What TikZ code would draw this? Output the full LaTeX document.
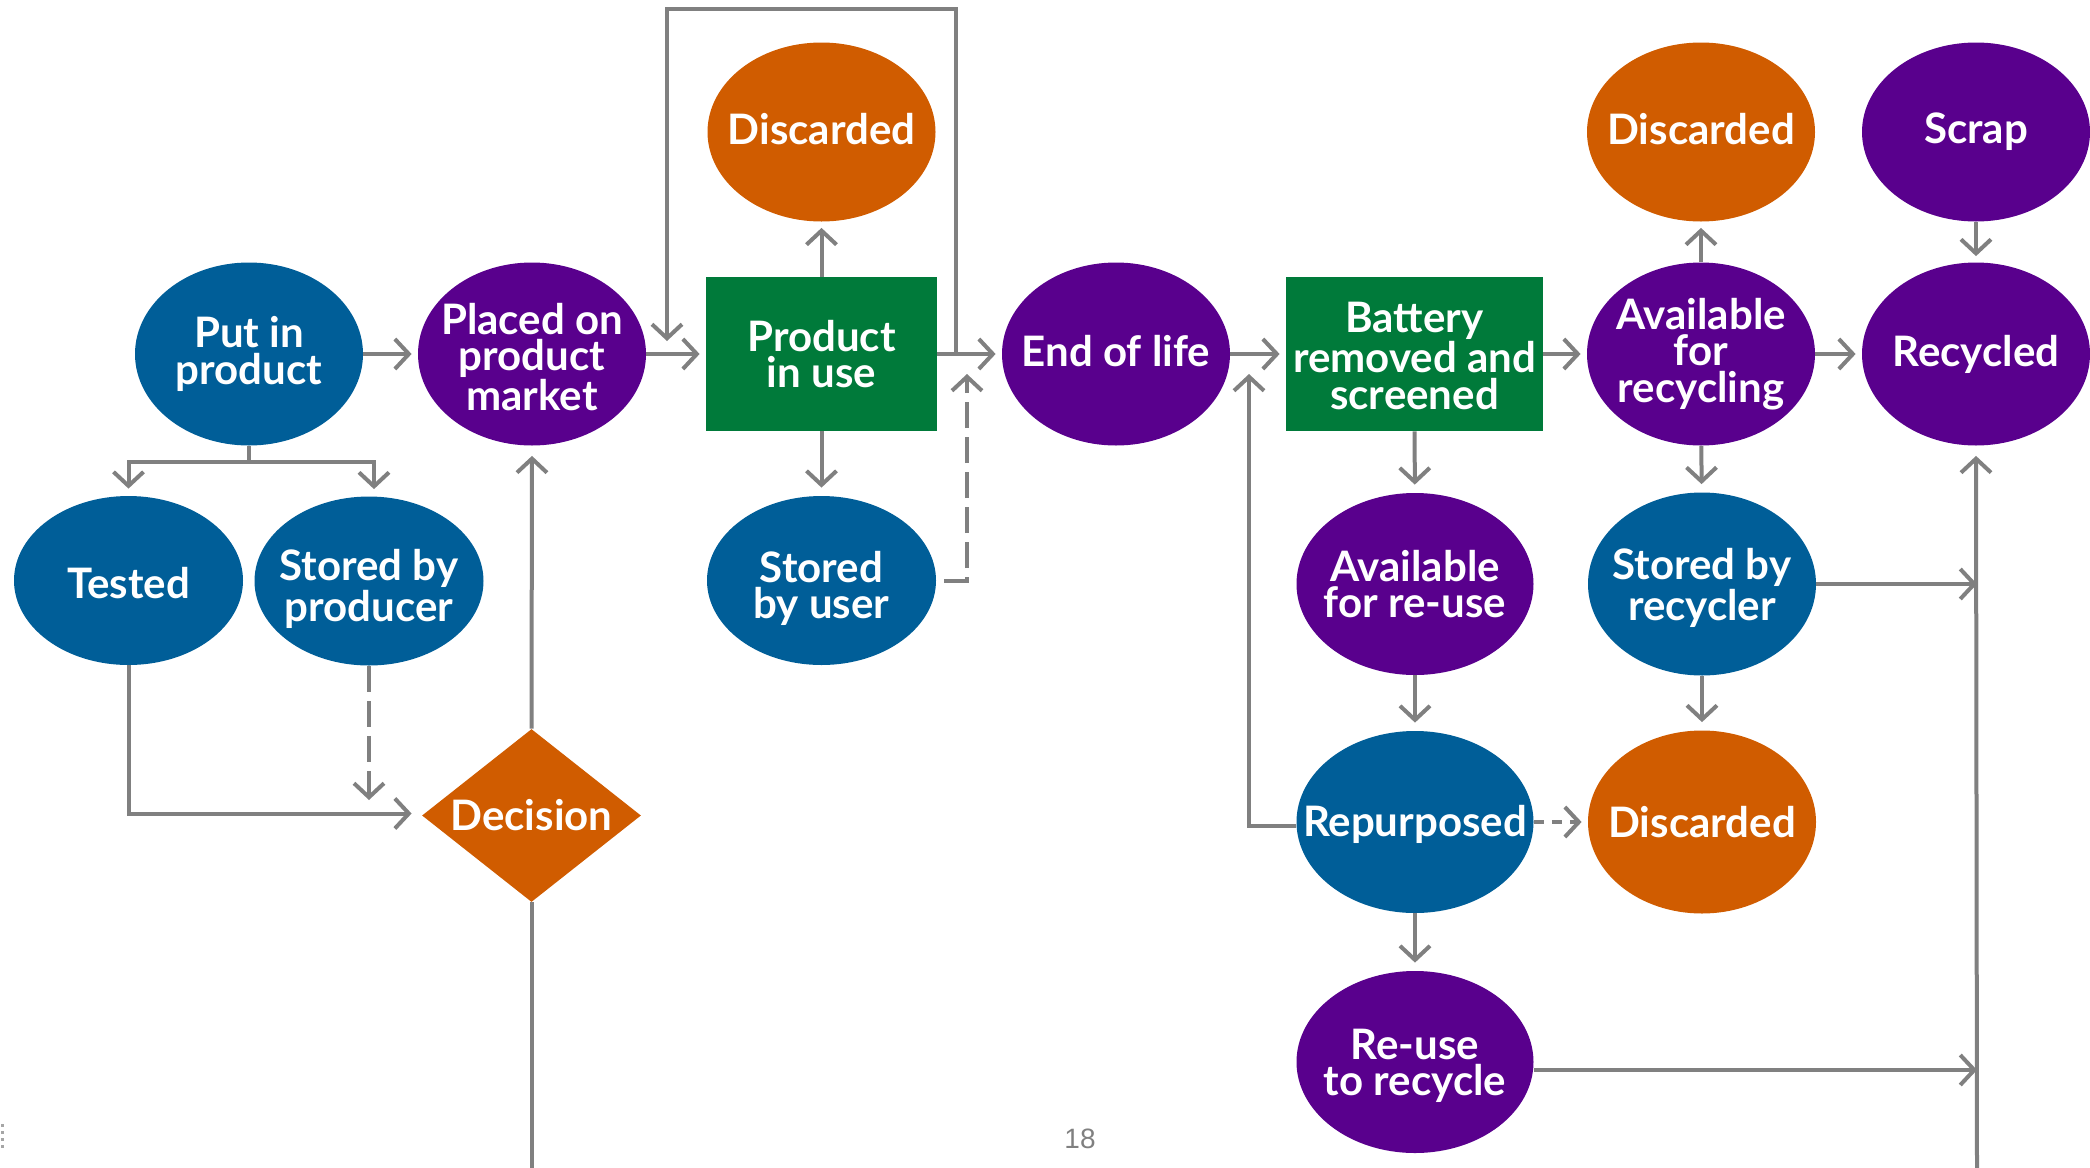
\documentclass[tikz,border=0pt]{standalone}
\usepackage{fontspec}
\setmainfont{Lato}
\newfontfamily\pnfont{Liberation Sans}
\usetikzlibrary{shapes.geometric,arrows.meta}
\definecolor{cblue}{RGB}{0,94,152}
\definecolor{cpurple}{RGB}{89,0,141}
\definecolor{corange}{RGB}{208,92,0}
\definecolor{cgreen}{RGB}{0,122,58}
\definecolor{cline}{RGB}{128,128,128}
\begin{document}
\begin{tikzpicture}[x=0.5pt,y=-0.5pt,
  lbl/.style={text=white, font=\bfseries\fontsize{21}{18.3}\selectfont, align=center, inner sep=0pt},
  blob/.style={ellipse, inner sep=0pt, minimum width=114pt, minimum height=91.5pt},
  lowblob/.style={blob, minimum width=114.5pt, minimum height=84.5pt},
  wideblob/.style={blob, minimum width=118.5pt, minimum height=91pt},
  greenbox/.style={rectangle, inner sep=0pt, fill=cgreen, minimum height=77pt},
  lineconn/.style={draw=cline, line width=2pt},
  conn/.style={lineconn, -{Straight Barb[length=7pt,width=15pt]}, shorten >=3pt},
  dashconn/.style={conn, dash pattern=on 13pt off 4.5pt}
]
\useasboundingbox (0,0) rectangle (2090,1168);

% shapes
\node[blob, fill=cblue] (put) at (249,354) {};
\node[blob, fill=cpurple] (placed) at (532,354) {};
\node[greenbox, minimum width=115.5pt] (use) at (821.5,354) {};
\node[blob, fill=corange, minimum height=89.5pt] (disc1) at (821.5,132) {};
\node[lowblob, fill=cblue] (suser) at (821.5,580.5) {};
\node[lowblob, fill=cblue] (tested) at (128.5,580.5) {};
\node[lowblob, fill=cblue] (sprod) at (369,581) {};
\node[diamond, inner sep=0pt, fill=corange, minimum width=109.5pt, minimum height=86.5pt] (dec) at (531.5,815.5) {};
\node[blob, fill=cpurple] (eol) at (1116,354) {};
\node[greenbox, minimum width=128.5pt] (bat) at (1414.5,354) {};
\node[blob, fill=cpurple] (arec) at (1701,354) {};
\node[blob, fill=cpurple] (recy) at (1976,354) {};
\node[blob, fill=corange, minimum height=89.5pt] (disc2) at (1701,132) {};
\node[blob, fill=cpurple, minimum height=89.5pt] (scrap) at (1976,132) {};
\node[wideblob, fill=cpurple] (areuse) at (1415,584) {};
\node[blob, fill=cblue] (srec) at (1702,584) {};
\node[wideblob, fill=cblue] (repur) at (1415,822) {};
\node[blob, fill=corange] (disc3) at (1702,822) {};
\node[wideblob, fill=cpurple] (r2r) at (1415,1062) {};

% texts
\node[lbl] (put-t) at (put) {Put in\\product};
\node[lbl, yshift=-1.5pt] (placed-t) at (placed) {Placed on\\product\\market};
\node[lbl] (use-t) at (use) {Product\\in use};
\node[lbl, yshift=1.3pt] (disc1-t) at (disc1) {Discarded};
\node[lbl, yshift=-4pt] (suser-t) at (suser) {Stored\\by user};
\node[lbl, yshift=-1.3pt] (tested-t) at (tested) {Tested};
\node[lbl, yshift=-4pt] (sprod-t) at (sprod) {Stored by\\producer};
\node[lbl] (dec-t) at (dec) {Decision};
\node[lbl, yshift=1.3pt] (eol-t) at (eol) {End of life};
\node[lbl, yshift=-1pt] (bat-t) at (bat) {Battery\\removed and\\screened};
\node[lbl] (arec-t) at (arec) {Available\\for\\recycling};
\node[lbl] (recy-t) at (recy) {Recycled};
\node[lbl, yshift=1.3pt] (disc2-t) at (disc2) {Discarded};
\node[lbl] (scrap-t) at (scrap) {Scrap};
\node[lbl] (areuse-t) at (areuse) {Available\\for re-use};
\node[lbl, yshift=-2pt] (srec-t) at (srec) {Stored by\\recycler};
\node[lbl, yshift=-1.3pt] (repur-t) at (repur) {Repurposed};
\node[lbl] (disc3-t) at (disc3) {Discarded};
\node[lbl, yshift=-2pt] (r2r-t) at (r2r) {Re-use\\to recycle};
\node[text=cline, font=\pnfont\fontsize{14}{16}\selectfont, inner sep=0pt] (pnum) at (1080,1139) {18};

% coordinates
\coordinate (lp) at (956,354);
\coordinate (lptop) at (956,9);
\coordinate (lpl) at (667,9);
\coordinate (lpend) at (667,341);
\coordinate (uend) at (967,374);
\coordinate (split) at (250,462);
\coordinate (sprodend) at (369,800);
\coordinate (decbot) at (531.5,1168);
\coordinate (rbot) at (1977,1168);
\coordinate (rl) at (1249,374);

% connectors, top row
\draw[conn] (put) -- (placed);
\draw[conn] (placed) -- (use);
\draw[conn] (use) -- (eol);
\draw[conn, shorten >=0pt] (lp) -- (lptop) -- (lpl) -- (lpend);
\draw[conn] (use) -- (disc1);
\draw[conn, shorten >=4pt] (use) -- (suser);
\draw[dashconn, shorten >=0pt, shorten <=4pt] (suser.east) -| (uend);

% left part
\draw[lineconn] (put.south) -- (put.south |- split);
\draw[conn, shorten >=3.5pt] (put.south |- split) -| (tested.north);
\draw[conn, shorten >=3.5pt] (put.south |- split) -| ([xshift=2.5pt]sprod.north);
\draw[conn, shorten >=5pt] (tested.south) |- ([yshift=1pt]dec.west);
\draw[dashconn, shorten >=0pt] (sprod.south) -- (sprodend);
\draw[conn, shorten >=5pt] (dec.north) -- (placed.south);
\draw[lineconn] (dec.south) -- (decbot);

% right part
\draw[conn] (eol) -- (bat);
\draw[conn] (bat) -- (arec);
\draw[conn] (arec) -- (recy);
\draw[conn] (arec) -- (disc2);
\draw[conn] (scrap) -- (recy);
\draw[conn, shorten >=4pt] (bat) -- (areuse);
\draw[conn, shorten >=4pt] (arec) -- (srec);
\draw[conn, shorten >=4pt] (areuse) -- (repur);
\draw[conn, shorten >=4pt] (srec) -- (disc3);
\draw[conn, shorten >=4pt] (repur) -- (r2r);
\draw[conn, dash pattern=on 5pt off 4pt] (repur) -- (disc3);
\draw[conn, shorten >=5pt] (rbot) -- (recy.south);
\draw[conn, shorten >=0pt] (srec.east) -- (srec.east -| rbot);
\draw[conn, shorten >=0pt] ([yshift=-4pt]r2r.east) -- ([yshift=-4pt]r2r.east -| rbot);
\draw[conn, shorten >=0pt] ([yshift=-2pt]repur.west) -| (rl);

% edge mark
\draw[cline!70, line width=1.5pt, dotted] (2,1124) -- (2,1150);
\end{tikzpicture}
\end{document}
